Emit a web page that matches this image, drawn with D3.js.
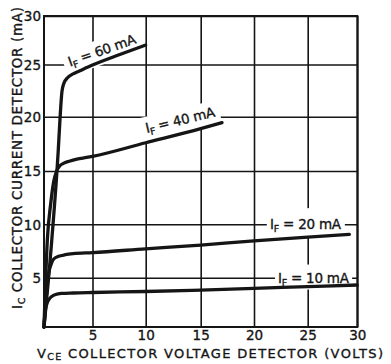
<!DOCTYPE html>
<html><head><meta charset="utf-8">
<script src="https://cdn.jsdelivr.net/npm/d3@7"></script>
<style>
body{margin:0;background:#fff;}
svg{display:block;background:#fff;}
svg text{stroke:#151515;stroke-width:0.35px;}
</style>
</head><body>
<svg id="c" width="391" height="364"></svg>
<script>
// ---------- data ----------
const xTicks = [5, 10, 15, 20, 25, 30];
const yTicks = [5, 10, 15, 20, 25, 30];
const seriesNames = ["60", "40", "20", "10"]; // I_F in mA

const vce60 = [0, 0.8, 1.47, 1.65, 1.85, 2.05, 2.4, 3.0, 3.7, 5, 7.5, 10];
const ic60  = [0, 8.5, 16.9, 19.8, 22.4, 23.2, 23.7, 24.1, 24.4, 24.95, 26.0, 27.0];

const vce40 = [0, 0.34, 0.7, 1.0, 1.3, 1.6, 2.0, 2.6, 3.4, 4.4, 5, 10, 15, 17.0];
const ic40  = [0, 8.5, 12.0, 14.0, 15.0, 15.45, 15.7, 15.9, 16.1, 16.25, 16.35, 17.6, 18.9, 19.45];

const vce20 = [0, 0.15, 0.3, 0.5, 0.75, 1.0, 1.5, 2.2, 3, 5, 10, 15, 20, 25, 29.2];
const ic20  = [0, 2.0, 3.9, 5.5, 6.3, 6.75, 7.0, 7.15, 7.25, 7.35, 7.7, 8.05, 8.45, 8.8, 9.05];

const vce10 = [0, 0.08, 0.2, 0.35, 0.55, 0.8, 1.2, 1.8, 3, 5, 10, 15, 20, 25, 30];
const ic10  = [0, 1.2, 2.0, 2.5, 2.85, 3.1, 3.3, 3.4, 3.45, 3.5, 3.6, 3.75, 3.92, 4.1, 4.26];

// ---------- layout ----------
const ink = "#151515";
const FONT = "DejaVu Sans";
const svg = d3.select("#c");

// the scanned grid is slightly irregular: piecewise linear scales
const x = d3.scaleLinear().domain([0, ...xTicks]).range([44, 92.5, 145.7, 200.7, 254, 307.7, 357.3]);
const y = d3.scaleLinear().domain([0, ...yTicks]).range([327, 277.7, 224.3, 171, 116.7, 64.5, 16]);

// grid + tick labels
const gx = svg.append("g")
  .attr("transform", `translate(0,${y(0)})`)
  .call(d3.axisBottom(x).tickValues(xTicks).tickSize(-(y(0) - y(30))).tickPadding(3).tickFormat(d3.format("d")));
gx.select(".domain").remove();
gx.selectAll("line").attr("stroke", ink).attr("stroke-width", 1.6);
gx.selectAll("text").attr("fill", ink).attr("font-family", FONT).attr("font-size", 13.5)
  .attr("dy", "0.72em");

const gy = svg.append("g")
  .attr("transform", `translate(${x(0)},0)`)
  .call(d3.axisLeft(y).tickValues(yTicks).tickSize(-(x(30) - x(0))).tickPadding(3).tickFormat(d3.format("d")));
gy.select(".domain").remove();
gy.selectAll("line").attr("stroke", ink).attr("stroke-width", 1.6);
gy.selectAll("text").attr("fill", ink).attr("font-family", FONT).attr("font-size", 13.5)
  .attr("dy", "0.36em");

// curve labels (with white knock-out boxes over the grid)
const labelLayout = [
  {name: "60", ax: 2.68, ay: 24.79, rot: -19.5, va: "baseline", pad: [5, 4, 3, 4]},
  {name: "40", ax: 10.09, ay: 18.5, rot: -13.5, va: "baseline", pad: [4, 4, 3, 4]},
  {name: "20", ax: 21.5, ay: 10, rot: 0, va: "middle", pad: [3.3, 3, 8, 2]},
  {name: "10", ax: 22.23, ay: 5, rot: 0, va: "middle", pad: [3, 2.4, 5, 2]},
];
const labelLayer = svg.append("g");
labelLayout.forEach(L => {
  const g = labelLayer.append("g")
    .attr("transform", `translate(${x(L.ax)},${y(L.ay)}) rotate(${L.rot})`);
  const rect = g.append("rect").attr("fill", "#fff");
  const t = g.append("text").attr("font-family", FONT).attr("font-size", 13.5).attr("fill", ink)
    .attr("dy", L.va === "middle" ? "0.36em" : 0)
    .attr("textLength", 71).attr("lengthAdjust", "spacing");
  t.append("tspan").text("I");
  t.append("tspan").attr("font-size", 9.5).attr("dy", 3).text("F");
  t.append("tspan").attr("dy", -3).text(` = ${L.name} mA`);
  const b = t.node().getBBox();
  rect.attr("x", b.x - L.pad[0]).attr("y", b.y - L.pad[2])
      .attr("width", b.width + L.pad[0] + L.pad[1])
      .attr("height", b.height + L.pad[2] + L.pad[3]);
});

// curves
const series = [
  {name: "60", xs: vce60, ys: ic60},
  {name: "40", xs: vce40, ys: ic40},
  {name: "20", xs: vce20, ys: ic20},
  {name: "10", xs: vce10, ys: ic10},
];
const line = d3.line().x(d => x(d[0])).y(d => y(d[1])).curve(d3.curveMonotoneX);
svg.append("g").selectAll("path").data(series).join("path")
  .attr("d", s => line(d3.zip(s.xs, s.ys)))
  .attr("fill", "none").attr("stroke", ink).attr("stroke-width", 3.3)
  .attr("stroke-linejoin", "round").attr("stroke-linecap", "round");

// frame
svg.append("rect")
  .attr("x", x(0)).attr("y", y(30))
  .attr("width", x(30) - x(0)).attr("height", y(0) - y(30))
  .attr("fill", "none").attr("stroke", ink).attr("stroke-width", 2);

// axis titles
const xt = svg.append("text")
  .attr("x", 210).attr("y", 357.5).attr("text-anchor", "middle")
  .attr("font-family", FONT).attr("font-size", 13).attr("fill", ink)
  .attr("textLength", 346).attr("lengthAdjust", "spacing");
xt.append("tspan").text("V");
xt.append("tspan").attr("font-size", 9.5).attr("dy", 2.5).text("CE");
xt.append("tspan").attr("dy", -2.5).text(" COLLECTOR VOLTAGE DETECTOR (VOLTS)");

const yt = svg.append("text")
  .attr("transform", "translate(22,158) rotate(-90)")
  .attr("text-anchor", "middle")
  .attr("font-family", FONT).attr("font-size", 13.5).attr("fill", ink)
  .attr("textLength", 302).attr("lengthAdjust", "spacing");
yt.append("tspan").text("I");
yt.append("tspan").attr("font-size", 9.5).attr("dy", 3).text("C");
yt.append("tspan").attr("dy", -3).text(" COLLECTOR CURRENT DETECTOR (mA)");
</script>
</body></html>
